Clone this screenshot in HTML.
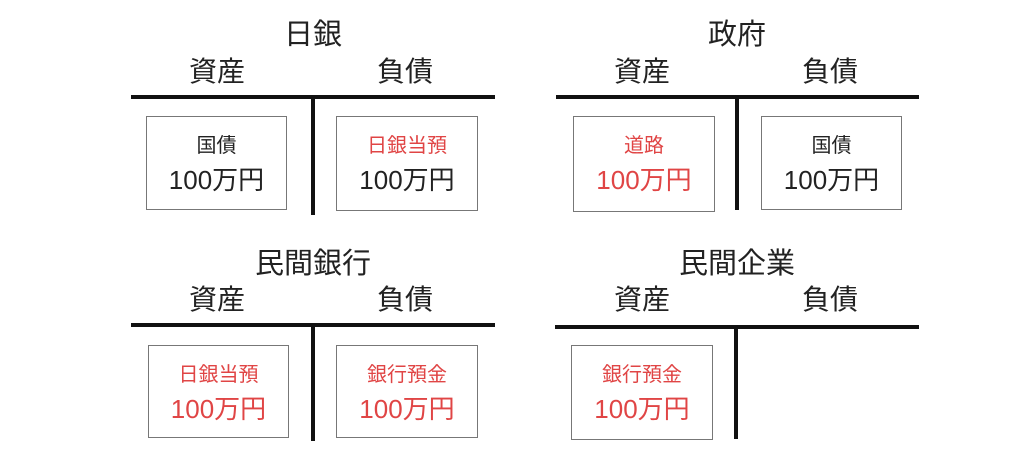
<!DOCTYPE html>
<html><head><meta charset="utf-8"><style>
body{margin:0;width:1024px;height:469px;background:#fff;position:relative;overflow:hidden;font-family:"Liberation Sans","Noto Sans CJK JP",sans-serif;color:#222}
.t{position:absolute;text-align:center;white-space:nowrap;line-height:1}
.h{position:absolute;background:#111;height:4px}
.v{position:absolute;background:#111;width:4px}
.b{position:absolute;border:1.5px solid #777;box-sizing:border-box;text-align:center}
.b div{position:absolute;left:0;right:0;line-height:1}
.l1{top:19px;font-size:20px}
.l2{top:50px;font-size:26px}
.r{color:#e04545}
.hd{font-size:28px}
.ti{font-size:29px}
</style></head><body>
<div class="t ti" style="left:213px;width:200px;top:21px">日銀</div>
<div class="t hd" style="left:167px;width:100px;top:58px">資産</div>
<div class="t hd" style="left:355px;width:100px;top:58px">負債</div>
<div class="h" style="left:131px;width:364px;top:95px"></div>
<div class="v" style="left:311px;top:95px;height:120px"></div>
<div class="b" style="left:146px;top:116px;width:141px;height:94px"><div class="l1">国債</div><div class="l2">100万円</div></div>
<div class="b" style="left:336px;top:116px;width:142px;height:95px"><div class="l1 r">日銀当預</div><div class="l2">100万円</div></div>

<div class="t ti" style="left:637px;width:200px;top:21px">政府</div>
<div class="t hd" style="left:592px;width:100px;top:58px">資産</div>
<div class="t hd" style="left:780px;width:100px;top:58px">負債</div>
<div class="h" style="left:556px;width:363px;top:95px"></div>
<div class="v" style="left:735px;top:95px;height:115px"></div>
<div class="b" style="left:573px;top:116px;width:142px;height:96px"><div class="l1 r">道路</div><div class="l2 r">100万円</div></div>
<div class="b" style="left:761px;top:116px;width:141px;height:94px"><div class="l1">国債</div><div class="l2">100万円</div></div>

<div class="t ti" style="left:213px;width:200px;top:250px">民間銀行</div>
<div class="t hd" style="left:167px;width:100px;top:286px">資産</div>
<div class="t hd" style="left:355px;width:100px;top:286px">負債</div>
<div class="h" style="left:131px;width:364px;top:323px"></div>
<div class="v" style="left:311px;top:323px;height:118px"></div>
<div class="b" style="left:148px;top:345px;width:141px;height:93px"><div class="l1 r">日銀当預</div><div class="l2 r">100万円</div></div>
<div class="b" style="left:336px;top:345px;width:142px;height:93px"><div class="l1 r">銀行預金</div><div class="l2 r">100万円</div></div>

<div class="t ti" style="left:637px;width:200px;top:250px">民間企業</div>
<div class="t hd" style="left:592px;width:100px;top:286px">資産</div>
<div class="t hd" style="left:780px;width:100px;top:286px">負債</div>
<div class="h" style="left:555px;width:364px;top:325px"></div>
<div class="v" style="left:734px;top:325px;height:114px"></div>
<div class="b" style="left:571px;top:345px;width:142px;height:95px"><div class="l1 r">銀行預金</div><div class="l2 r">100万円</div></div>
</body></html>
